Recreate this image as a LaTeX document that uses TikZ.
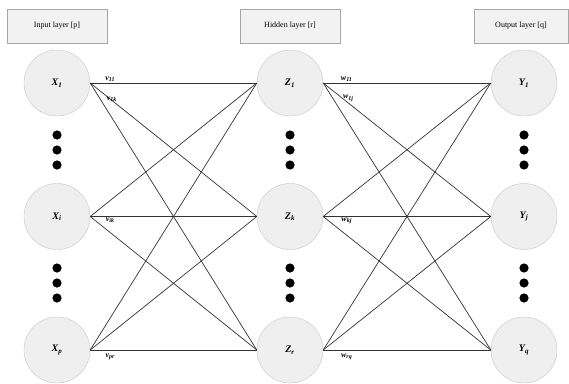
\documentclass[tikz,border=0pt]{standalone}
\usepackage{fontspec}
\setmainfont{Liberation Serif}
\usepackage{xcolor}
\usetikzlibrary{positioning}
\definecolor{boxgray}{HTML}{F2F2F2}
\definecolor{nodegray}{HTML}{EFEFEF}
\tikzstyle{layer} = [rectangle, draw=gray!70, fill=boxgray, minimum width=100pt, minimum height=34pt, font=\fontsize{8}{9}\selectfont]
\tikzstyle{neuron} = [circle, draw=gray!45, fill=nodegray, minimum size=66pt, inner sep=0pt, font=\fontsize{10}{11}\selectfont\bfseries\itshape]
\tikzstyle{link} = [draw=black!80, line width=0.7pt]
\tikzstyle{weight} = [font=\fontsize{8}{9}\selectfont\bfseries\itshape, inner sep=1pt]

\begin{document}
\begin{tikzpicture}[x=1pt, y=-1pt, node distance=133.5pt]
    \useasboundingbox (0,0) rectangle (569,383);

    % layer captions
    \node (inbox)  [layer] at (57,26)  {Input layer [p]};
    \node (hidbox) [layer] at (290,26) {Hidden layer [r]};
    \node (outbox) [layer, minimum width=94pt] at (521,26) {Output layer [q]};

    % input layer
    \node (x1) [neuron] at (57,83) {X\textsubscript{1}};
    \node (xi) [neuron, below of=x1] {X\textsubscript{i}};
    \node (xp) [neuron, below of=xi] {X\textsubscript{p}};
    % hidden layer
    \node (z1) [neuron] at (290,83) {Z\textsubscript{1}};
    \node (zk) [neuron, below of=z1] {Z\textsubscript{k}};
    \node (zr) [neuron, below of=zk] {Z\textsubscript{r}};
    % output layer
    \node (y1) [neuron] at (524,83) {Y\textsubscript{1}};
    \node (yj) [neuron, below of=y1] {Y\textsubscript{j}};
    \node (yq) [neuron, below of=yj] {Y\textsubscript{q}};

    % dots between the units
    \foreach \cx in {57,290,524}
        \foreach \cy in {135,150,165,268,283,298}
            \fill (\cx,\cy) circle (4.6pt);

    % input -> hidden
    \draw [link] (x1.east) -- node[weight, pos=0.12, above] {v\textsubscript{11}} (z1.west);
    \draw [link] (x1.east) -- node[weight, pos=0.13, yshift=1pt] {v\textsubscript{1k}} (zk.west);
    \draw [link] (x1.east) -- (zr.west);
    \draw [link] (xi.east) -- (z1.west);
    \draw [link] (xi.east) -- node[weight, pos=0.12, below] {v\textsubscript{ik}} (zk.west);
    \draw [link] (xi.east) -- (zr.west);
    \draw [link] (xp.east) -- (z1.west);
    \draw [link] (xp.east) -- (zk.west);
    \draw [link] (xp.east) -- node[weight, pos=0.12, below, yshift=-2pt] {v\textsubscript{pr}} (zr.west);

    % hidden -> output
    \draw [link] (z1.east) -- node[weight, pos=0.14, above] {w\textsubscript{11}} (y1.west);
    \draw [link] (z1.east) -- node[weight, pos=0.15, above] {w\textsubscript{1j}} (yj.west);
    \draw [link] (z1.east) -- (yq.west);
    \draw [link] (zk.east) -- (y1.west);
    \draw [link] (zk.east) -- node[weight, pos=0.14, below] {w\textsubscript{kj}} (yj.west);
    \draw [link] (zk.east) -- (yq.west);
    \draw [link] (zr.east) -- (y1.west);
    \draw [link] (zr.east) -- (yj.west);
    \draw [link] (zr.east) -- node[weight, pos=0.14, below, yshift=-2pt] {w\textsubscript{rq}} (yq.west);
\end{tikzpicture}
\end{document}
